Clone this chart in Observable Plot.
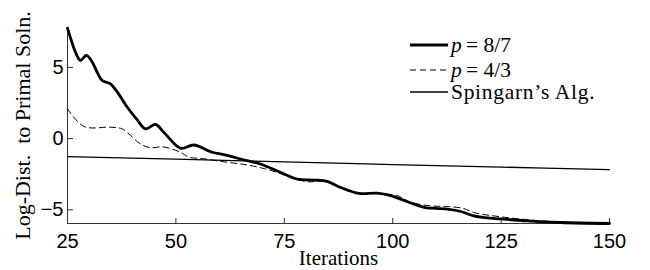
<!DOCTYPE html>
<html><head><meta charset="utf-8">
<script src="https://cdn.jsdelivr.net/npm/d3@7"></script>
<script src="https://cdn.jsdelivr.net/npm/@observablehq/plot@0.6"></script>
<style>
body{margin:0;background:#fff;}
#wrap{position:relative;width:650px;height:270px;overflow:hidden;}
.row{position:absolute;left:410px;height:18px;display:flex;align-items:center;font-family:"Liberation Serif",serif;font-size:21.5px;color:#000;white-space:nowrap;}
.row svg{display:block;}
.row span{margin-left:3px;line-height:18px;}
.ttl{font-family:"Liberation Serif",serif !important;}
</style></head><body><div id="wrap"></div>
<script>
// p = 8/7
const iterA = [25,27,28,29.4,30.7,33,34.9,36.5,38.8,41,43,45.3,47.2,51.1,54.1,58.4,61,66.4,69.5,74.1,78,81.8,84.9,88,92.2,96.4,99.5,104,107.5,110,113,115.5,118.7,121.4,125,131,138.7,150];
const valA  = [7.75,5.95,5.49,5.85,5.37,4.08,3.85,3.26,2.2,1.35,0.68,0.99,0.45,-0.68,-0.45,-0.96,-1.13,-1.55,-1.78,-2.37,-2.84,-2.91,-3.0,-3.43,-3.85,-3.83,-4.0,-4.5,-4.84,-4.9,-4.97,-5.1,-5.42,-5.55,-5.64,-5.78,-5.89,-5.96];
// p = 4/3
const iterB = [25,28.8,34.9,37.6,41.8,44.1,47,51,53,56,62,66.5,70,73.4,77,80.5,84,88,92,96,101,104,108.7,112.6,116.3,118.7,124.9,132.5,140,150];
const valB  = [2.09,0.85,0.8,0.68,-0.37,-0.64,-0.58,-0.95,-1.3,-1.4,-1.67,-1.85,-2.08,-2.37,-2.78,-3.03,-3.0,-3.4,-3.85,-3.85,-4.0,-4.45,-4.72,-4.77,-4.9,-5.19,-5.49,-5.73,-5.87,-5.96];
// Spingarn's Alg.
const iterC = [25,50,75,100,125,150];
const valC  = [-1.27,-1.44,-1.63,-1.82,-2.0,-2.18];

const xTicks = [25,50,75,100,125,150];
const yTicks = [-5,0,5];
const xDomain = [25,150];
const yDomain = [-5.96,7.8];
const seriesNames = ["p = 8/7","p = 4/3","Spingarn’s Alg."];
const xTitle = "Iterations";
const yTitle = "Log-Dist.\u00a0 to Primal Soln.";

const toRows = (xs, ys) => xs.map((x, i) => ({x, y: ys[i]}));
const A = toRows(iterA, valA), B = toRows(iterB, valB), C = toRows(iterC, valC);

const serif = "'Liberation Serif', 'Times New Roman', serif";
const plot = Plot.plot({
  width: 650, height: 270,
  marginLeft: 67, marginRight: 41, marginTop: 27, marginBottom: 47,
  style: {fontFamily: "'Liberation Sans', Arial, sans-serif", fontSize: "20px", background: "#fff", color: "#000", overflow: "visible"},
  x: {domain: xDomain, label: null},
  y: {domain: yDomain, label: null},
  marks: [
    Plot.ruleX([xDomain[0]], {stroke: "#333", strokeWidth: 1}),
    Plot.ruleY([yDomain[0]], {stroke: "#333", strokeWidth: 1}),
    Plot.axisX(xTicks, {tickSize: -5, tickPadding: 15, stroke: "#333", fill: "#000", fontSize: 20, label: null}),
    Plot.axisY(yTicks, {tickSize: -6, tickPadding: 10, stroke: "#333", fill: "#000", fontSize: 20, label: null}),
    Plot.line(C, {x: "x", y: "y", stroke: "#000", strokeWidth: 1.3, curve: "catmull-rom"}),
    Plot.line(B, {x: "x", y: "y", stroke: "#000", strokeWidth: 1, strokeDasharray: "6,4", curve: "catmull-rom"}),
    Plot.line(A, {x: "x", y: "y", stroke: "#000", strokeWidth: 2.8, curve: "catmull-rom"}),
    Plot.text([xTitle], {frameAnchor: "bottom", textAnchor: "middle", lineAnchor: "middle", dy: 35, fontFamily: serif, fontSize: 21, fill: "#000", className: "ttl"}),
    Plot.text([yTitle], {frameAnchor: "left", textAnchor: "middle", lineAnchor: "middle", rotate: -90, dx: -45, fontFamily: serif, fontSize: 22, fill: "#000", className: "ttl"})
  ]
});
const wrap = document.getElementById("wrap");
wrap.appendChild(plot);

// legend (HTML overlay)
const legendStyles = [
  {w: 2.8, dash: null, top: 36, ls: 0},
  {w: 1, dash: "6,4", top: 61, ls: 0},
  {w: 1.3, dash: null, top: 83, ls: 0.7}
];
const labelsHtml = ["<i>p</i>&thinsp;= 8/7", "<i>p</i>&thinsp;= 4/3", seriesNames[2]];
legendStyles.forEach((s, i) => {
  const row = document.createElement("div");
  row.className = "row";
  row.style.top = s.top + "px";
  row.innerHTML = `<svg width="38" height="18"><line x1="0" x2="38" y1="9" y2="9" stroke="#000" stroke-width="${s.w}" ${s.dash ? `stroke-dasharray="${s.dash}"` : ""}/></svg><span style="letter-spacing:${s.ls}px">${labelsHtml[i]}</span>`;
  wrap.appendChild(row);
});
</script>
</body></html>
